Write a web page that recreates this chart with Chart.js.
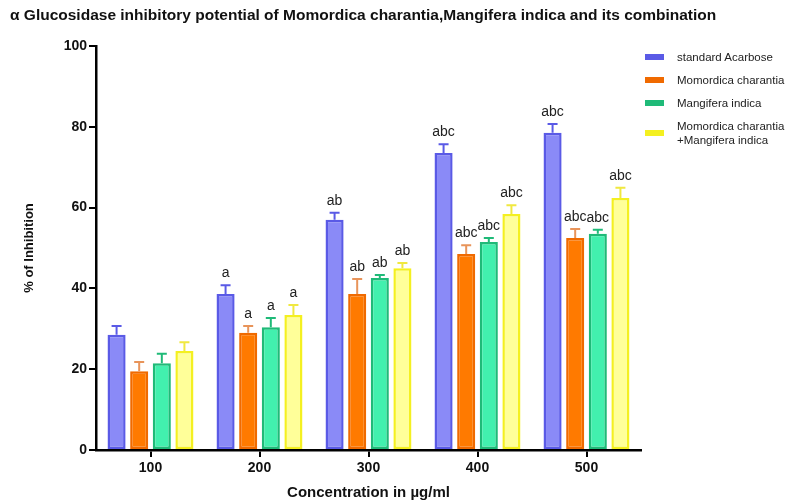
<!DOCTYPE html>
<html>
<head>
<meta charset="utf-8">
<script src="https://cdn.jsdelivr.net/npm/chart.js@4.4.0/dist/chart.umd.min.js"></script>
<style>
    html, body {margin: 0; padding: 0; background: #fff;}
    #wrap {position: relative; width: 803px; height: 504px;}
    #legend {position: absolute; left: 645px; top: 50px; font-family: "Liberation Sans", Arial, sans-serif; font-size: 11.5px; color: #222;}
    .item {display: flex; align-items: center; margin-bottom: 9px; line-height: 14px;}
    .box {width: 19px; height: 6px; margin-right: 13px; flex: none;}
</style>
</head>
<body>
<div id="wrap">
    <canvas id="chart" width="803" height="504"></canvas>
    <div id="legend"></div>
</div>
<script>
const categories = ["100", "200", "300", "400", "500"];
const seriesNames = ["standard Acarbose", "Momordica charantia", "Mangifera indica", "Momordica charantia\n+Mangifera indica"];

const acarbose = [28.5, 38.6, 57.0, 73.5, 78.5];
const momordica = [19.5, 29.0, 38.6, 48.5, 52.5];
const mangifera = [21.5, 30.4, 42.6, 51.5, 53.5];
const combination = [24.5, 33.4, 45.0, 58.4, 62.4];

const acarboseErr = [2.2, 2.2, 1.7, 2.2, 2.2];
const momordicaErr = [2.3, 1.7, 3.7, 2.2, 2.2];
const mangiferaErr = [2.3, 2.3, 0.7, 1.0, 1.0];
const combinationErr = [2.2, 2.5, 1.3, 2.2, 2.5];

const acarboseMarks = ["", "a", "ab", "abc", "abc"];
const momordicaMarks = ["", "a", "ab", "abc", "abc"];
const mangiferaMarks = ["", "a", "ab", "abc", "abc"];
const combinationMarks = ["", "a", "ab", "abc", "abc"];

const fills = ["#8a8af7", "#ff7a00", "#42f0ae", "#ffff99"];
const borders = ["#5a5ae6", "#f06a00", "#1fba78", "#f4f020"];
const errColors = ["#5a5ae6", "#e8945a", "#1fba78", "#f0e840"];

const values = [acarbose, momordica, mangifera, combination];
const errors = [acarboseErr, momordicaErr, mangiferaErr, combinationErr];
const marks = [acarboseMarks, momordicaMarks, mangiferaMarks, combinationMarks];

const legend = document.getElementById("legend");
seriesNames.forEach((name, i) => {
    const row = document.createElement("div");
    row.className = "item";
    row.innerHTML = `<span class="box" style="background:${borders[i]}"></span><span>${name.replace("\n", "<br>")}</span>`;
    legend.appendChild(row);
});

const errorBars = {
    id: "errorBars",
    afterDatasetsDraw(chart) {
        const ctx = chart.ctx;
        const y = chart.scales.y;
        chart.data.datasets.forEach((ds, di) => {
            const meta = chart.getDatasetMeta(di);
            meta.data.forEach((bar, i) => {
                const top = y.getPixelForValue(values[di][i] + errors[di][i]);
                ctx.save();
                ctx.strokeStyle = errColors[di];
                ctx.lineWidth = 2;
                ctx.beginPath();
                ctx.moveTo(bar.x, bar.y);
                ctx.lineTo(bar.x, top);
                ctx.moveTo(bar.x - 5, top);
                ctx.lineTo(bar.x + 5, top);
                ctx.stroke();
                if (marks[di][i]) {
                    ctx.fillStyle = "#222";
                    ctx.font = "14px 'Liberation Sans', Arial, sans-serif";
                    ctx.textAlign = "center";
                    ctx.textBaseline = "alphabetic";
                    ctx.fillText(marks[di][i], bar.x, top - 8);
                }
                ctx.restore();
            });
        });
    }
};

const boldFont = size => ({family: "'Liberation Sans', Arial", size: size, weight: "bold"});

new Chart(document.getElementById("chart"), {
    type: "bar",
    data: {
        labels: categories,
        datasets: seriesNames.map((name, i) => ({
            label: name,
            data: values[i],
            backgroundColor: fills[i],
            borderColor: borders[i],
            borderWidth: 2.5,
            borderSkipped: false,
            categoryPercentage: 0.83,
            barPercentage: 0.8
        }))
    },
    options: {
        responsive: false,
        animation: false,
        layout: {padding: {left: 18, right: 162, top: 46, bottom: 2}},
        plugins: {
            legend: {display: false},
            tooltip: {enabled: false}
        },
        scales: {
            x: {
                grid: {display: true, drawOnChartArea: false, offset: false, tickLength: 7, color: "#000", lineWidth: 2},
                border: {color: "#000", width: 2.5},
                ticks: {color: "#111", font: boldFont(14), padding: 3},
                title: {display: true, text: "Concentration in µg/ml", color: "#111", font: boldFont(15), padding: {top: 11, bottom: 0}},
                afterFit: s => { s.height = 52; }
            },
            y: {
                min: 0,
                max: 100,
                ticks: {stepSize: 20, color: "#111", font: boldFont(14), padding: 2},
                grid: {drawOnChartArea: false, tickLength: 7, color: "#000", lineWidth: 2},
                border: {color: "#000", width: 2.5},
                title: {display: true, text: "% of Inhibition", color: "#111", font: boldFont(13)},
                afterFit: s => { s.width = 78; }
            }
        }
    },
    plugins: [errorBars, {
        id: "heading",
        afterDraw(chart) {
            const ctx = chart.ctx;
            ctx.save();
            ctx.fillStyle = "#111";
            ctx.font = "bold 15.5px 'Liberation Sans', Arial, sans-serif";
            ctx.textBaseline = "alphabetic";
            ctx.fillText("α Glucosidase inhibitory potential of Momordica charantia,Mangifera indica and its combination", 10, 20);
            ctx.restore();
        }
    }]
});
</script>
</body>
</html>
